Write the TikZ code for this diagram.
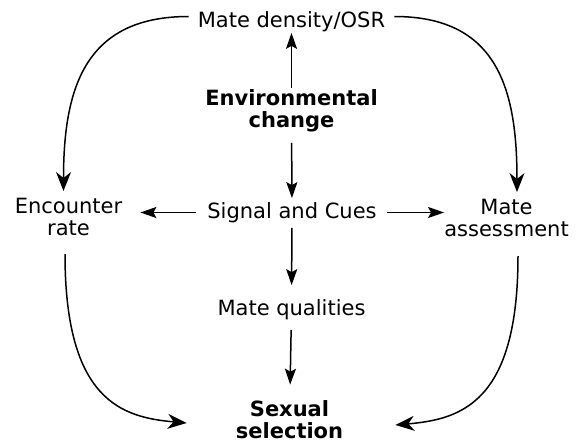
\documentclass[tikz,border=0pt]{standalone}
\usepackage{fontspec}
\setmainfont{DejaVu Sans}
\usepackage{tikz}
\usetikzlibrary{arrows.meta, positioning, calc}
\tikzset{%
	term/.style={inner sep=0pt, align=center, font=\fontsize{21}{22}\selectfont},
	key/.style={term, font=\fontsize{21}{22}\selectfont\bfseries},
	sel/.style={-{Stealth[length=16pt, width=11pt, inset=3pt]}, line width=1.5pt},
	loopback/.style={-{Stealth[length=19pt, width=15pt, inset=6pt]}, line width=1.5pt}
}

\begin{document}
\begin{tikzpicture}[x=1pt, y=1pt]
	\useasboundingbox (0,0) rectangle (579,-444);
	\node[term, inner xsep=9pt] (md) at (291.5,-21.5) {Mate density/OSR};
	\node[key] (env) at (291.5,-110.5) {Environmental\\change};
	\node[term] (sig) at (292,-212.5) {Signal and Cues};
	\node[term] (enc) at (68.5,-217) {Encounter\\rate};
	\node[term] (ass) at (506.5,-218) {Mate\\assessment};
	\node[term] (qual) at (291.5,-309.5) {Mate qualities};
	\node[key] (sex) at (289.5,-420) {Sexual\\selection};
	
	\draw[sel, shorten <=1pt, shorten >=1pt] (env) -- (md);
	\draw[sel, shorten <=11pt, shorten >=4pt] (env) -- (sig);
	\draw[sel, shorten <=11pt, shorten >=18pt] (sig.west) -- (sig.west -| enc.east);
	\draw[sel, shorten <=10pt] (sig.east) -- (sig.east -| ass.west);
	\draw[sel, shorten <=5pt, shorten >=14pt] (sig) -- (qual);
	\draw[sel, shorten <=10pt, shorten >=16pt] (qual) -- (sex);
	
	\draw[loopback] ([yshift=5pt]md.west) to[out=180, in=90, looseness=1.23] ([xshift=-5pt, yshift=7pt]enc.north);
	\draw[loopback] ([yshift=5pt]md.east) to[out=0, in=90, looseness=1.23] ([xshift=10.5pt, yshift=7pt]ass.north);
	\draw[loopback] ([xshift=-3.5pt, yshift=-18pt]enc.south) to[out=-90, in=175, out looseness=1.8, in looseness=0.8] ([xshift=-49pt, yshift=-3pt]sex.west);
	\draw[loopback] ([xshift=11.5pt, yshift=-19pt]ass.south) to[out=-90, in=5, out looseness=1.8, in looseness=0.8] ([xshift=52pt, yshift=-5pt]sex.east);
\end{tikzpicture}
\end{document}
